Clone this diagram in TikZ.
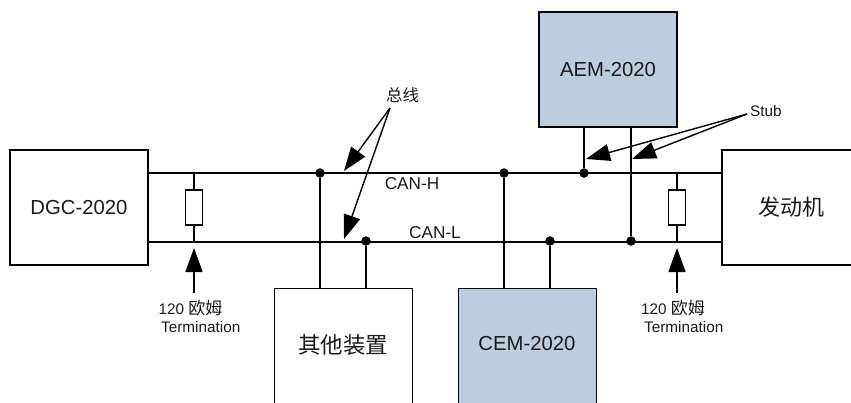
\documentclass[tikz,border=0pt]{standalone}
\usepackage{fontspec}
\setmainfont{Liberation Sans}
\newfontfamily\cjk{Noto Sans CJK SC}
\usetikzlibrary{arrows.meta}
\definecolor{boxblue}{HTML}{BCCDE0}
\definecolor{ink}{HTML}{1A1A1A}
\newcommand{\ohmtext}{120 {\fontsize{17pt}{19pt}\selectfont\cjk 欧姆}}
\tikzset{
  box/.style={draw=black,line width=1.3pt,inner sep=0pt,text=ink,font=\fontsize{20.3pt}{22pt}\selectfont},
  cjkbox/.style={box,font=\fontsize{22pt}{24pt}\selectfont\cjk},
  res/.style={draw=black,fill=white,line width=1.2pt,minimum width=17pt,minimum height=35pt,inner sep=0pt},
  wire/.style={line width=1.5pt},
  junction/.style={circle,fill=black,inner sep=0pt,minimum size=9.5pt},
  pointer/.style={line width=1.4pt,-{Triangle[length=24pt,width=17pt]}},
  label/.style={inner sep=0pt,text=ink,font=\fontsize{15.3pt}{17pt}\selectfont},
  buslabel/.style={inner sep=0pt,text=ink,font=\fontsize{17.2pt}{19pt}\selectfont},
  cjklabel/.style={inner sep=0pt,text=ink,font=\fontsize{16.5pt}{18pt}\selectfont\cjk}
}
\begin{document}
\begin{tikzpicture}[x=1pt,y=-1pt]
\useasboundingbox (0,0) rectangle (851,402);
\clip (0,0) rectangle (851,402);
% boxes
\node[box,minimum width=138pt,minimum height=115pt] (dgc) at (79,207.5) {DGC-2020};
\node[box,fill=boxblue,minimum width=138pt,minimum height=115pt] (aem) at (608,69.5) {AEM-2020};
\node[cjkbox,minimum width=138pt,minimum height=115pt] (engine) at (791,207.5) {发动机};
\node[box,anchor=north west,minimum width=138pt,minimum height=116pt] (other) at (274,288) {};
\node[box,fill=boxblue,anchor=north west,minimum width=138pt,minimum height=116pt] (cem) at (458,288) {};
\node[inner sep=0pt,font=\fontsize{22.5pt}{24pt}\selectfont\cjk,text=ink] (othertext) at (343,345) {其他装置};
\node[inner sep=0pt,font=\fontsize{20.3pt}{22pt}\selectfont,text=ink] (cemtext) at (527,344) {CEM-2020};
% bus
\coordinate (hl) at (148,173);
\coordinate (hr) at (722,173);
\coordinate (ll) at (148,242);
\coordinate (lr) at (722,242);
\draw[wire] (hl) -- (hr);
\draw[wire] (ll) -- (lr);
% junctions
\node[junction] (j1) at (320,173) {};
\node[junction] (j2) at (366,241) {};
\node[junction] (j3) at (504,173) {};
\node[junction] (j4) at (550,241) {};
\node[junction] (j5) at (584,173) {};
\node[junction] (j6) at (631,241) {};
\draw[wire] (j1) -- (j1 |- other.north);
\draw[wire] (j2) -- (j2 |- other.north);
\draw[wire] (j3) -- (j3 |- cem.north);
\draw[wire] (j4) -- (j4 |- cem.north);
\draw[wire] (j5) -- (j5 |- aem.south);
\draw[wire] (j6) -- (j6 |- aem.south);
% terminations
\node[res] (r1) at (194,207.5) {};
\node[res] (r2) at (677,207.5) {};
\draw[wire] (r1.north) -- (r1.north |- hl);
\draw[wire] (r1.south) -- (r1.south |- ll);
\draw[wire] (r2.north) -- (r2.north |- hl);
\draw[wire] (r2.south) -- (r2.south |- ll);
% labels
\node[buslabel] (canh) at (412,184) {CAN-H};
\node[buslabel] (canl) at (435,233) {CAN-L};
\node[cjklabel] (bus) at (402.5,95) {总线};
\node[label,anchor=west] (stub) at (750,111) {Stub};
\node[label,anchor=west] (t1a) at (158.5,308) {\ohmtext};
\node[label,anchor=west] (t1b) at (161,327) {Termination};
\node[label,anchor=west] (t2a) at (641,308) {\ohmtext};
\node[label,anchor=west] (t2b) at (644,327) {Termination};
% pointers
\coordinate (t1tail) at (194,293);
\coordinate (t1tip) at (194,248);
\coordinate (t2tail) at (677,293);
\coordinate (t2tip) at (677,248);
\draw[pointer] (t1tail) -- (t1tip);
\draw[pointer] (t2tail) -- (t2tip);
\coordinate (bustail) at (390,108);
\coordinate (bustipa) at (344,171);
\coordinate (bustipb) at (344,239);
\draw[pointer] (bustail) -- (bustipa);
\draw[pointer] (bustail) -- (bustipb);
\coordinate (stubtail) at (747,114);
\coordinate (stubtipa) at (586,159);
\coordinate (stubtipb) at (632,159);
\draw[pointer] (stubtail) -- (stubtipa);
\draw[pointer] (stubtail) -- (stubtipb);
\end{tikzpicture}
\end{document}
